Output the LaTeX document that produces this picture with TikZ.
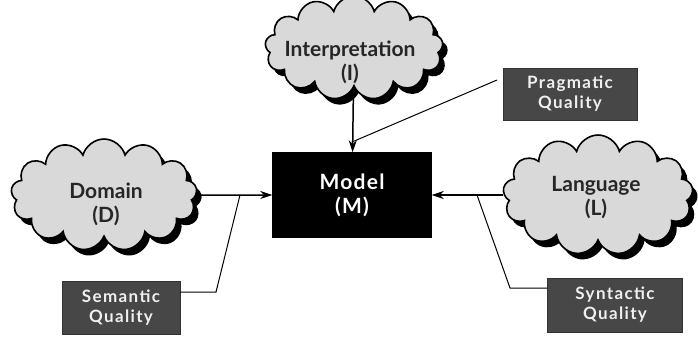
\documentclass[tikz,border=0pt]{standalone}
\usepackage{fontspec}
\setmainfont{Lato}
\usetikzlibrary{shapes.symbols,shadows,arrows.meta}
\begin{document}
\begin{tikzpicture}[x=1pt,y=-1pt,
  cloudbox/.style={cloud, cloud puffs=13, cloud ignores aspect, draw=black, line width=1.6pt,
    fill=black!15,
    drop shadow={shadow xshift=5pt, shadow yshift=-6pt, fill=black, opacity=1}},
  cloudtext/.style={align=center, font=\fontsize{21}{24}\selectfont\bfseries, text=black!85},
  modelbox/.style={rectangle, fill=black, draw=black, align=center, text=white,
    font=\fontsize{21}{24}\selectfont\bfseries\addfontfeatures{LetterSpace=6}},
  qualbox/.style={rectangle, fill=black!72, draw=black!80, align=center, text=black!6,
    inner sep=1pt,
    font=\fontsize{17}{20}\selectfont\bfseries\addfontfeatures{LetterSpace=8}},
  arr/.style={line width=1.5pt, -{Stealth[length=12pt,width=8pt]}},
  link/.style={line width=1pt}]
\useasboundingbox (0,0) rectangle (698,338);
% clouds
\node[cloudbox, minimum width=178pt, minimum height=104pt] (I) at (354,48) {};
\node[cloudtext] (It) at (350,62) {Interpretation\\(I)};
\node[cloudbox, minimum width=186pt, minimum height=112pt] (D) at (104,195) {};
\node[cloudtext] (Dt) at (106,204) {Domain\\(D)};
\node[cloudbox, minimum width=190pt, minimum height=120pt] (L) at (598,195) {};
\node[cloudtext] (Lt) at (596,198) {Language\\(L)};
% model
\node[modelbox, minimum width=159pt, minimum height=85pt] (M) at (352,195) {Model\\(M)};
% quality boxes
\node[qualbox, minimum width=118pt, minimum height=53pt] (SQ) at (121,308) {Semantic\\Quality};
\node[qualbox, minimum width=134pt, minimum height=52pt] (PQ) at (570,94) {Pragmatic\\Quality};
\node[qualbox, minimum width=135pt, minimum height=54pt] (YQ) at (615,305) {Syntactic\\Quality};
% arrows
\draw[arr] (I) -- (M);
\draw[arr] (D) -- (M);
\draw[arr] (L.west |- M) -- (M);
% connectors
\coordinate (sqa) at (216,292);
\coordinate (sqb) at (240,195);
\draw[link] (SQ.east |- sqa) -- (sqa) -- (sqb);
\coordinate (pqa) at (497,80);
\coordinate (pqb) at (352,142);
\draw[link] (pqa) -- (pqb);
\coordinate (yqa) at (510,288);
\coordinate (yqb) at (477,195);
\draw[link] (YQ.west |- yqa) -- (yqa) -- (yqb);
\end{tikzpicture}
\end{document}
